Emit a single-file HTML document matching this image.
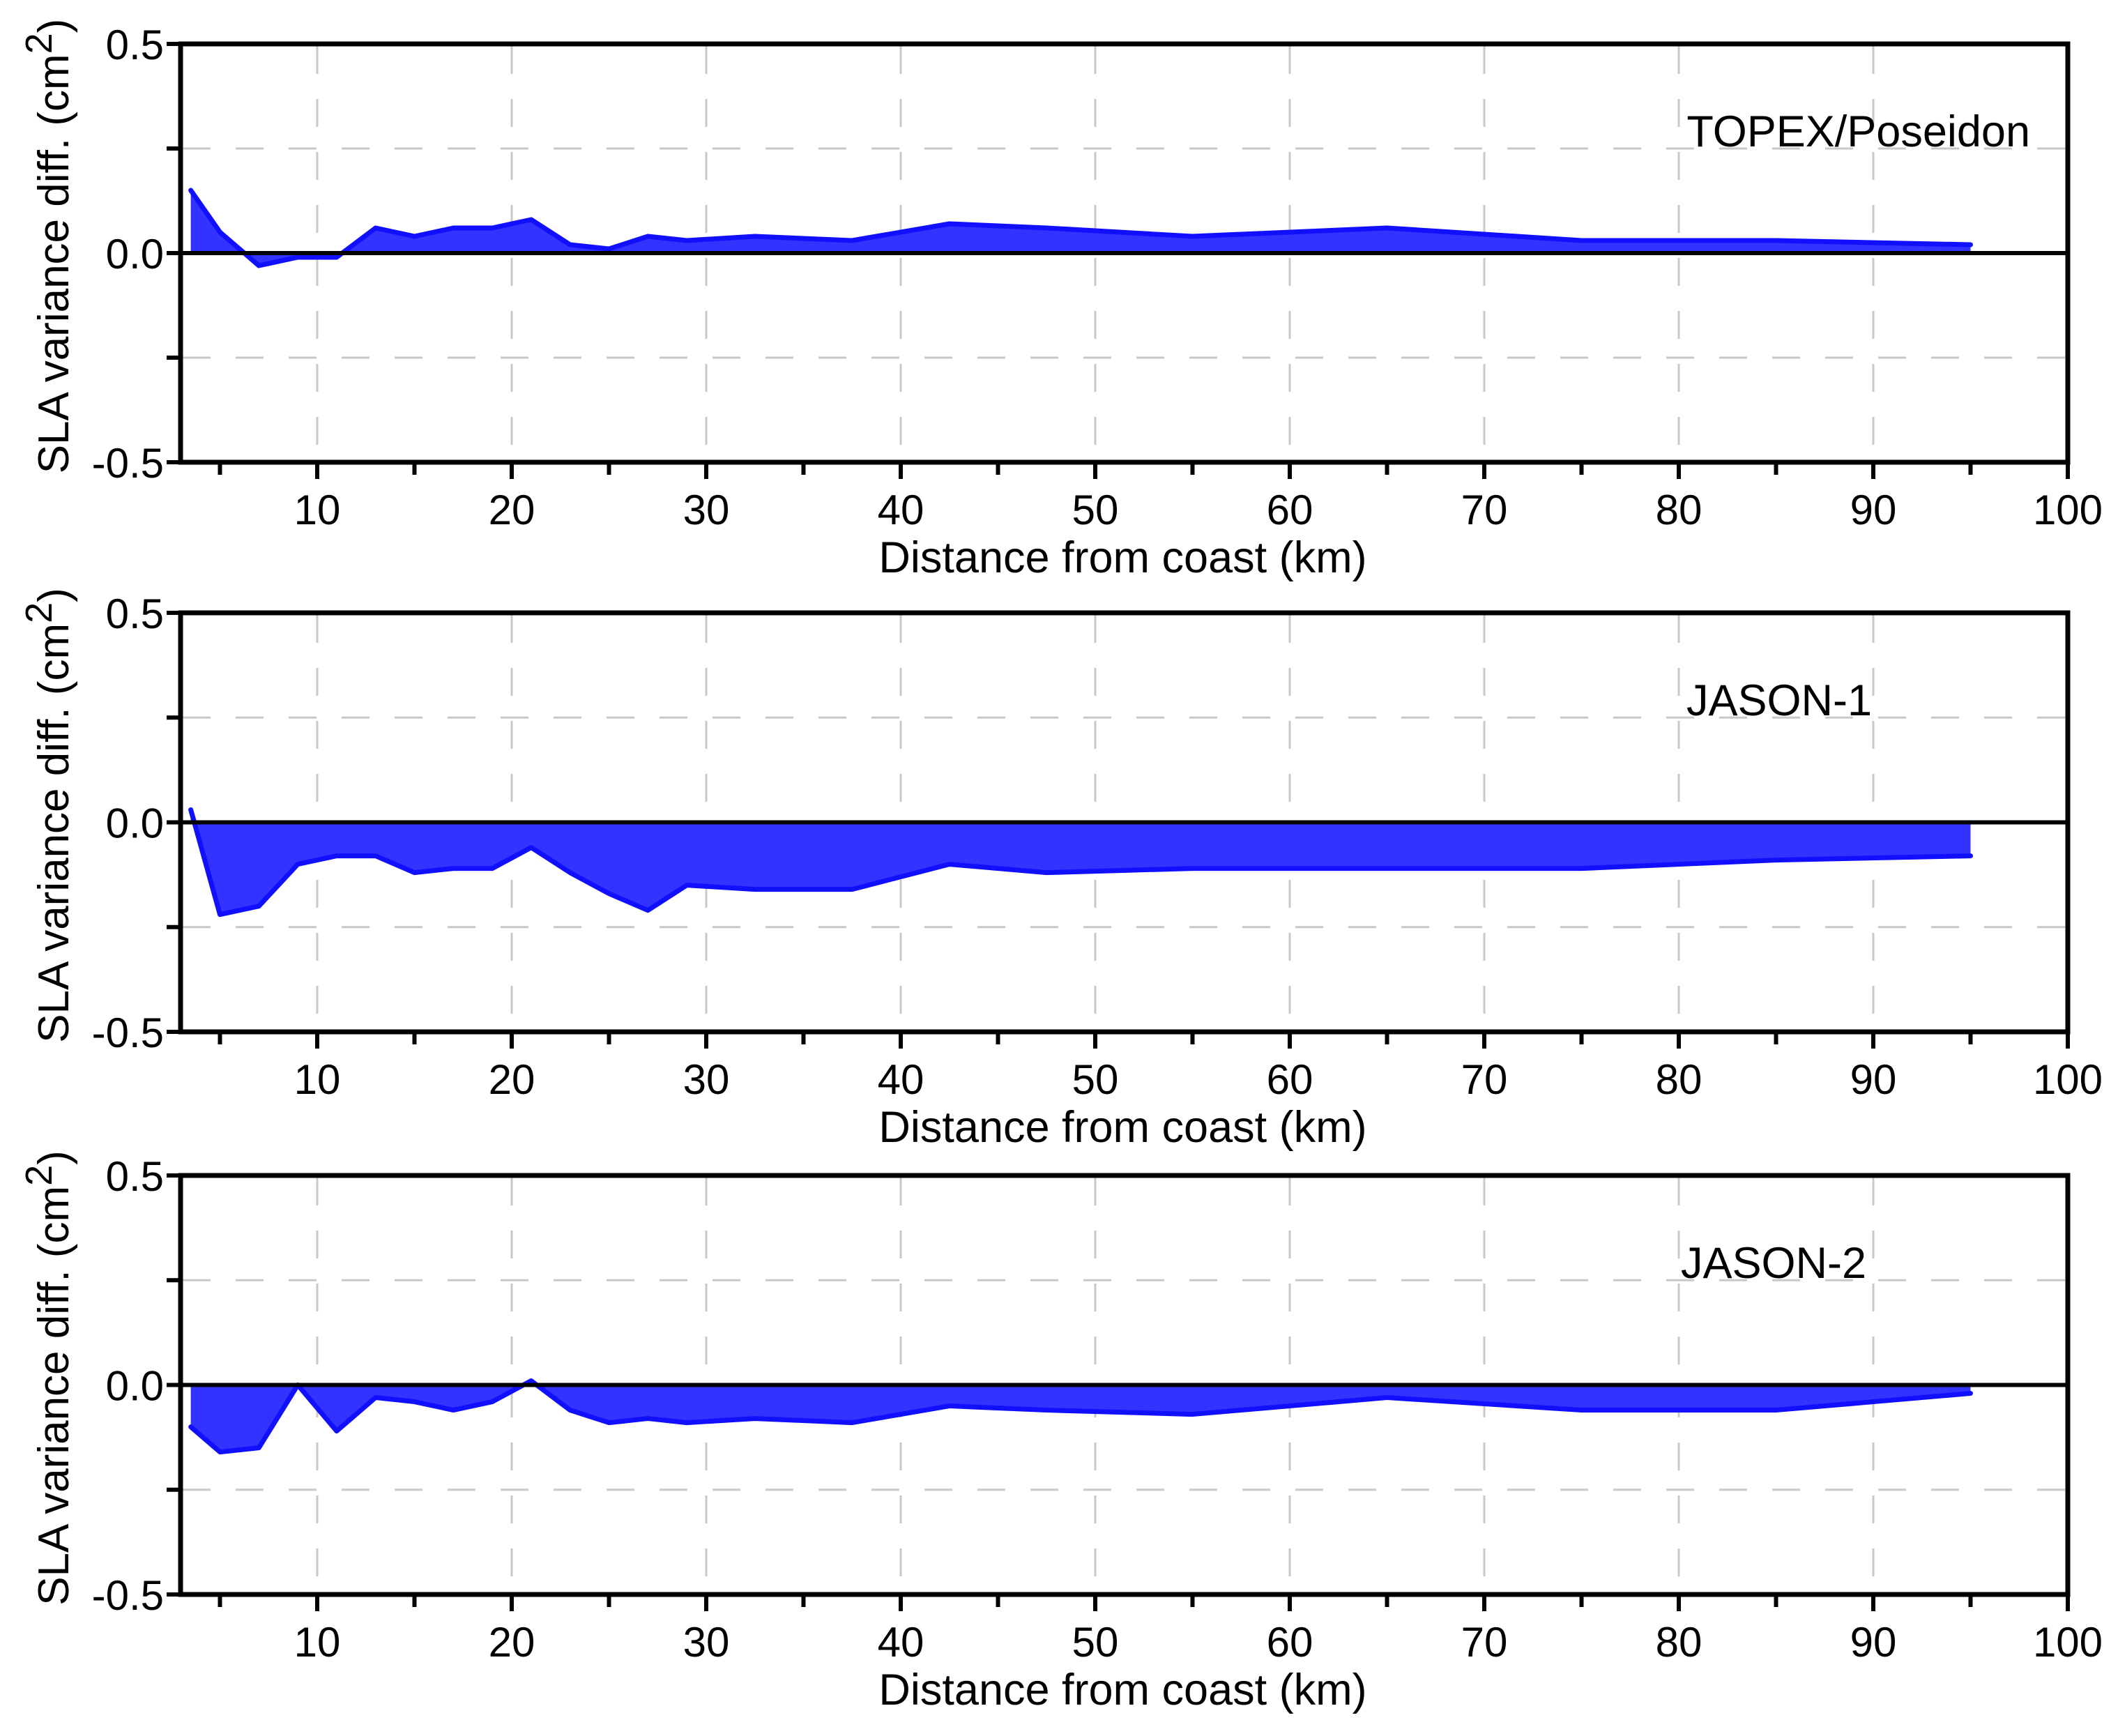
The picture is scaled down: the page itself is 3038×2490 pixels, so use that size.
<!DOCTYPE html>
<html><head><meta charset="utf-8"><style>
html,body{margin:0;padding:0;background:#fff;}
svg text{font-family:"Liberation Sans",Arial,sans-serif;fill:#000;}
</style></head><body>
<svg id="chart" width="3038" height="2485" viewBox="0 0 3038 2485" xmlns="http://www.w3.org/2000/svg"></svg>
<script>
const distances = [3.5,5,7,9,11,13,15,17,19,21,23,25,27,29,32.5,37.5,42.5,47.5,55,65,75,85,95];
const topexValues = [0.15,0.05,-0.03,-0.01,-0.01,0.06,0.04,0.06,0.06,0.08,0.02,0.01,0.04,0.03,0.04,0.03,0.07,0.06,0.04,0.06,0.03,0.03,0.02];
const jason1Values = [0.03,-0.22,-0.2,-0.1,-0.08,-0.08,-0.12,-0.11,-0.11,-0.06,-0.12,-0.17,-0.21,-0.15,-0.16,-0.16,-0.1,-0.12,-0.11,-0.11,-0.11,-0.09,-0.08];
const jason2Values = [-0.1,-0.16,-0.15,0.0,-0.11,-0.03,-0.04,-0.06,-0.04,0.01,-0.06,-0.09,-0.08,-0.09,-0.08,-0.09,-0.05,-0.06,-0.07,-0.03,-0.06,-0.06,-0.02];
const xTickLabels = [10,20,30,40,50,60,70,80,90,100];
const yTickLabels = ["0.5","0.0","-0.5"];
const panelNames = ["TOPEX/Poseidon","JASON-1","JASON-2"];

const svg = document.getElementById('chart');
const NS = 'http://www.w3.org/2000/svg';
function mk(tag, attrs, parent){const e=document.createElementNS(NS,tag);for(const k in attrs)e.setAttribute(k,attrs[k]);(parent||svg).appendChild(e);return e;}

const X0 = 176, XS = 27.9;
const LEFT = 259, RIGHT = 2966;
function xScale(v){return X0 + v*XS;}
const panels = [
  {top:63, bottom:663, data:topexValues, lx:2912, anchor:'end', slug:'topex'},
  {top:879, bottom:1480, data:jason1Values, lx:2552, anchor:'middle', slug:'jason1'},
  {top:1686, bottom:2287, data:jason2Values, lx:2544, anchor:'middle', slug:'jason2'}
];

panels.forEach((p,pi)=>{
  const g = mk('g',{});
  
  
  const yScale = v => p.top + (0.5 - v)/1.0*(p.bottom-p.top);
  for(let k=10;k<100;k+=10){
    const l=mk('line',{x1:xScale(k),x2:xScale(k),y1:p.top+3,y2:p.bottom-3,stroke:'#c8c8c8','stroke-width':3,'stroke-dasharray':'40,36'},g);
    
    
  }
  [0.25,-0.25].forEach(v=>{
    const l=mk('line',{x1:LEFT+3,x2:RIGHT-3,y1:yScale(v),y2:yScale(v),stroke:'#c8c8c8','stroke-width':3,'stroke-dasharray':'40,36'},g);
    
    
  });
  let d = 'M'+xScale(distances[0])+','+yScale(0);
  distances.forEach((x,i)=>{d+=' L'+xScale(x)+','+yScale(p.data[i]);});
  d += ' L'+xScale(distances[distances.length-1])+','+yScale(0)+' Z';
  const area=mk('path',{d:d,fill:'#3333ff',stroke:'none'},g);
  
  
  let ld='';
  distances.forEach((x,i)=>{ld+=(i?' L':'M')+xScale(x)+','+yScale(p.data[i]);});
  const line=mk('path',{d:ld,fill:'none',stroke:'#1010ff','stroke-width':7,'stroke-linejoin':'round','stroke-linecap':'round'},g);
  
  
  const z=mk('line',{x1:LEFT,x2:RIGHT,y1:yScale(0),y2:yScale(0),stroke:'#000','stroke-width':6},g);
  
  
  const fr=mk('rect',{x:LEFT,y:p.top,width:RIGHT-LEFT,height:p.bottom-p.top,fill:'none',stroke:'#000','stroke-width':7},g);
  
  
  [0.5,0.25,0,-0.25,-0.5].forEach(v=>{
    const t=mk('line',{x1:LEFT-20,x2:LEFT,y1:yScale(v),y2:yScale(v),stroke:'#000','stroke-width':6},g);
    
    
  });
  yTickLabels.forEach(s=>{
    const t=mk('text',{x:LEFT-24,y:yScale(parseFloat(s))+22,'font-size':60,'text-anchor':'end'},g);
    t.textContent=s;
    
    
  });
  for(let k=5;k<=100;k+=5){
    const major=k%10===0;
    const t=mk('line',{x1:xScale(k),x2:xScale(k),y1:p.bottom,y2:p.bottom+(major?24:18),stroke:'#000','stroke-width':6},g);
    
    
  }
  xTickLabels.forEach(k=>{
    const t=mk('text',{x:xScale(k),y:p.bottom+89,'font-size':60,'text-anchor':'middle'},g);
    t.textContent=k;
    
    
  });
  const xt=mk('text',{x:(LEFT+RIGHT)/2-2,y:p.bottom+158,'font-size':63,'text-anchor':'middle'},g);
  xt.textContent='Distance from coast (km)';
  
  
  const cy=(p.top+p.bottom)/2-10;
  const yt=mk('text',{x:0,y:0,'font-size':62,'text-anchor':'middle',transform:'translate(98,'+cy+') rotate(-90)'},g);
  yt.innerHTML='SLA variance diff. (cm<tspan dy="-24" font-size="54">2</tspan><tspan dy="24">)</tspan>';
  
  
  const pl=mk('text',{x:p.lx,y:p.top+147,'font-size':63,'text-anchor':p.anchor},g);
  pl.textContent=panelNames[pi];
  
  
});
</script>
</body></html>
